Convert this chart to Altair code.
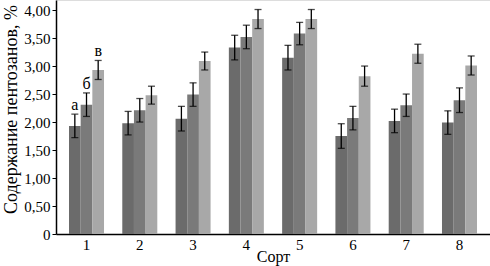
import altair as alt
import pandas as pd

cultivars = ["1", "2", "3", "4", "5", "6", "7", "8"]
series = ["а", "б", "в"]
vals_a = [1.93, 1.98, 2.06, 3.33, 3.15, 1.75, 2.02, 1.99]
vals_b = [2.31, 2.21, 2.49, 3.52, 3.58, 2.07, 2.30, 2.39]
vals_c = [2.93, 2.48, 3.09, 3.84, 3.84, 2.82, 3.22, 3.01]
err_a = [0.21, 0.21, 0.22, 0.22, 0.22, 0.22, 0.21, 0.21]
err_b = [0.21, 0.21, 0.21, 0.21, 0.20, 0.21, 0.20, 0.22]
err_c = [0.17, 0.16, 0.16, 0.17, 0.17, 0.18, 0.17, 0.17]
y_ticks = [0, 0.5, 1.0, 1.5, 2.0, 2.5, 3.0, 3.5, 4.0]
colors = ["#6b6b6b", "#7a7a7a", "#a8a8a8"]

rows = []
for s, vals, errs in zip(series, [vals_a, vals_b, vals_c], [err_a, err_b, err_c]):
    for c, v, e in zip(cultivars, vals, errs):
        rows.append({"cult": c, "ser": s, "v": v, "lo": v - e, "hi": v + e})
df = pd.DataFrame(rows)

FONT = "Liberation Serif"

x_axis = alt.Axis(title="Сорт", labelAngle=0, ticks=False, domainColor="black",
                  domainWidth=1.5, labelFontSize=15, labelFont=FONT, labelColor="black",
                  titleFont=FONT, titleFontSize=16, titleFontWeight="normal",
                  titleColor="black", labelPadding=3,
                  titleBaseline="alphabetic", titleY=27)
y_axis = alt.Axis(title="Содержание пентозанов, %", values=y_ticks, grid=False,
                  labelOverlap=False,
                  labelExpr="datum.value == 0 ? '0' : replace(format(datum.value, '.2f'), '.', ',')",
                  labelFont=FONT, labelFontSize=15, labelColor="black",
                  titleFont=FONT, titleFontSize=18, titleFontWeight="normal",
                  titleColor="black", tickSize=4, tickColor="black",
                  domainColor="black", domainWidth=1.5, labelPadding=2,
                  titleY=109, titlePadding=3)
x_scale = alt.Scale(paddingInner=0.343, paddingOuter=0.244)
y_scale = alt.Scale(domain=[0, 4.18], nice=False)

base = alt.Chart(df).encode(
    x=alt.X("cult:N", sort=cultivars, scale=x_scale, axis=x_axis),
    xOffset=alt.XOffset("ser:N", sort=series, scale=alt.Scale(paddingInner=0, paddingOuter=0)),
)

bars = base.mark_bar().encode(
    y=alt.Y("v:Q", scale=y_scale, axis=y_axis),
    color=alt.Color("ser:N", sort=series, scale=alt.Scale(domain=series, range=colors), legend=None),
)
rules = base.mark_rule(color="black", strokeWidth=1.3).encode(
    y=alt.Y("lo:Q", scale=y_scale, axis=y_axis),
    y2="hi:Q",
)
caps_hi = base.mark_tick(color="black", size=7, thickness=1.3).encode(
    y=alt.Y("hi:Q", scale=y_scale, axis=y_axis),
)
caps_lo = base.mark_tick(color="black", size=7, thickness=1.3).encode(
    y=alt.Y("lo:Q", scale=y_scale, axis=y_axis),
)
labels = base.transform_filter(alt.datum.cult == "1").mark_text(
    font=FONT, fontSize=16, baseline="bottom", dy=-1, color="black"
).encode(
    y=alt.Y("hi:Q", scale=y_scale, axis=y_axis),
    text="ser:N",
)

chart = alt.layer(bars, rules, caps_hi, caps_lo, labels).properties(
    width=434, height=234,
    autosize=alt.AutoSizeParams(type="none"),
    padding={"left": 56, "top": 0, "right": 0, "bottom": 32},
).configure_view(stroke=None).configure(background="white")

chart.save("out.html", embed_options={"renderer": "svg", "actions": False})
